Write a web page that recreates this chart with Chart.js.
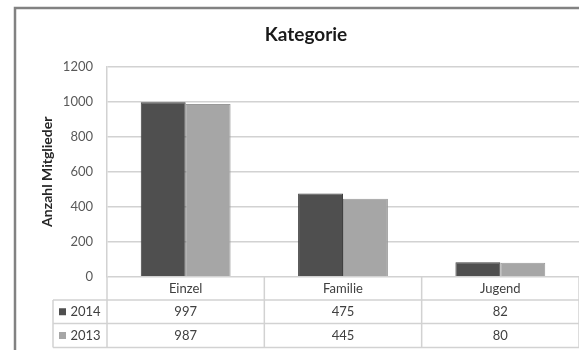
<!DOCTYPE html>
<html>
<head>
<meta charset="utf-8">
<script src="https://cdn.jsdelivr.net/npm/chart.js@4"></script>
<style>
  html, body { margin: 0; padding: 0; background: #fff; }
  #wrap { width: 579px; height: 350px; }
</style>
</head>
<body>
<div id="wrap"><canvas id="kategorieChart"></canvas></div>
<script>
const categories = ["Einzel", "Familie", "Jugend"];
const seriesLabels = ["2014", "2013"];
const values2014 = [997, 475, 82];
const values2013 = [987, 445, 80];
const seriesColors = ["#4f4f4f", "#a6a6a6"];
const yMax = 1200;
const yStep = 200;

const lineColor = "#d2d2d2";

// grey frame on the top and left edge (the rest is cut off in the picture)
const framePlugin = {
  id: "frame",
  beforeDraw(chart) {
    const ctx = chart.ctx;
    ctx.save();
    ctx.fillStyle = "#fff";
    ctx.fillRect(0, 0, chart.width, chart.height);
    ctx.strokeStyle = "#828282";
    ctx.lineWidth = 2.5;
    ctx.beginPath();
    ctx.moveTo(15, chart.height);
    ctx.lineTo(15, 8);
    ctx.lineTo(chart.width, 8);
    ctx.stroke();
    ctx.restore();
  }
};

// Excel style data table under the plot
const tablePlugin = {
  id: "dataTable",
  afterDraw(chart) {
    const { ctx, chartArea, scales: { x } } = chart;
    const half = (x.getPixelForValue(1) - x.getPixelForValue(0)) / 2;
    const top = chartArea.bottom;
    const rows = [top, top + 23.3, top + 46.8, top + 70.8];
    const tableLeft = 53;

    ctx.save();
    ctx.strokeStyle = lineColor;
    ctx.lineWidth = 1.5;
    ctx.beginPath();
    for (let r = 1; r < rows.length; r++) {
      ctx.moveTo(tableLeft, rows[r]);
      ctx.lineTo(chart.width, rows[r]);
    }
    ctx.moveTo(tableLeft, rows[1]);
    ctx.lineTo(tableLeft, rows[3]);
    ctx.moveTo(chartArea.left, top);
    ctx.lineTo(chartArea.left, rows[3]);
    categories.forEach((c, i) => {
      const xr = x.getPixelForValue(i) + half;
      ctx.moveTo(xr, top);
      ctx.lineTo(xr, rows[3]);
    });
    ctx.stroke();

    ctx.font = "13px Lato";
    ctx.textBaseline = "middle";
    ctx.textAlign = "center";
    ctx.fillStyle = "#404040";
    categories.forEach((c, i) => {
      ctx.fillText(c, x.getPixelForValue(i), (rows[0] + rows[1]) / 2);
    });

    chart.data.datasets.forEach((ds, d) => {
      const yc = (rows[d + 1] + rows[d + 2]) / 2;
      ctx.fillStyle = ds.backgroundColor;
      ctx.fillRect(59, yc - 3.5, 7, 7);
      ctx.fillStyle = "#404040";
      ctx.textAlign = "left";
      ctx.fillText(ds.label, 70.5, yc);
      ctx.textAlign = "center";
      ds.data.forEach((v, i) => {
        ctx.fillText(String(v), x.getPixelForValue(i), yc);
      });
    });
    ctx.restore();
  }
};

new Chart(document.getElementById("kategorieChart"), {
  type: "bar",
  data: {
    labels: categories,
    datasets: [
      {
        label: seriesLabels[0],
        data: values2014,
        backgroundColor: seriesColors[0],
        borderColor: "#404040",
        borderWidth: 1
      },
      {
        label: seriesLabels[1],
        data: values2013,
        backgroundColor: seriesColors[1],
        borderColor: "#999999",
        borderWidth: 1
      }
    ]
  },
  options: {
    responsive: true,
    maintainAspectRatio: false,
    animation: false,
    layout: { padding: { left: 33, right: 0, top: 0, bottom: 0 } },
    datasets: {
      bar: { categoryPercentage: 0.571, barPercentage: 1 }
    },
    plugins: {
      legend: { display: false },
      tooltip: { enabled: false },
      title: {
        display: true,
        text: "Kategorie",
        color: "#1a1a1a",
        font: { family: "Lato", size: 19, weight: "bold" },
        padding: { top: 23.5, bottom: 20.4 }
      }
    },
    scales: {
      x: {
        grid: { display: false },
        border: { display: false },
        ticks: { display: false },
        afterFit(scale) { scale.height = 73.3; }
      },
      y: {
        min: 0,
        max: yMax,
        ticks: {
          stepSize: yStep,
          color: "#595959",
          font: { family: "Lato", size: 13 },
          padding: 14,
          callback: v => String(v)
        },
        grid: { color: lineColor, lineWidth: 1.5, drawTicks: false },
        border: { display: true, color: lineColor, width: 1.5 },
        title: {
          display: true,
          text: "Anzahl Mitglieder",
          color: "#262626",
          font: { family: "Lato", size: 14, weight: "bold" },
          padding: { top: 5.6, bottom: 0 }
        },
        afterFit(scale) { scale.width = 74; }
      }
    }
  },
  plugins: [framePlugin, tablePlugin]
});
</script>
</body>
</html>
